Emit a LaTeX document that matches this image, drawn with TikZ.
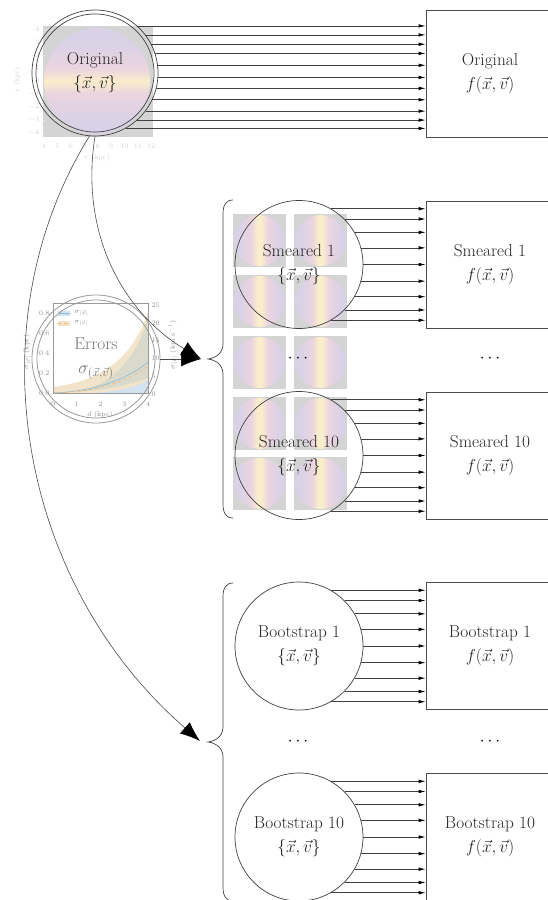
\documentclass[tikz,border=0pt]{standalone}
\usepackage{fontspec}
\usetikzlibrary{arrows.meta,calc}
\definecolor{lav}{HTML}{D9D2E7}
\definecolor{pnk}{HTML}{EBD4DF}
\definecolor{ylw}{HTML}{FAEDCB}
\definecolor{sqgray}{HTML}{D4D4D4}
\definecolor{mplblue}{HTML}{5B9DC9}
\definecolor{bandblue}{HTML}{D2E3EF}
\definecolor{bandorange}{HTML}{F2E4CA}
\definecolor{bandolive}{HTML}{D9DACB}
\pgfdeclarehorizontalshading{smearsh}{100bp}{color(0bp)=(lav); color(30bp)=(lav); color(42bp)=(pnk); color(48bp)=(ylw); color(52bp)=(ylw); color(58bp)=(pnk); color(70bp)=(lav); color(100bp)=(lav)}
\pgfdeclareverticalshading{origsh}{100bp}{color(0bp)=(lav); color(32bp)=(lav); color(44bp)=(pnk); color(50bp)=(ylw); color(56bp)=(pnk); color(68bp)=(lav); color(100bp)=(lav)}
\newcommand\lab{\fontsize{17.28}{24}\selectfont}
\newcommand\tinylab{\fontsize{7}{8}\selectfont}
\begin{document}
\begin{tikzpicture}[x=1pt,y=-1pt,
  ln/.style={black!75, line width=0.7pt},
  arr/.style={ln, -{Latex[length=7pt,width=3.5pt,black]}},
  bigarr/.style={black!70, line width=0.6pt, -{Latex[length=20pt,width=15pt,black]}},
  circ/.style={circle, draw=black!75, line width=0.7pt, minimum size=128pt, inner sep=0pt, align=center, font=\lab, text=black!85},
  fnbox/.style={rectangle, draw=black!70, line width=0.7pt, minimum width=128pt, minimum height=127pt, align=center, font=\lab, text=black!85},
  ticklab/.style={font=\tinylab, text=black!18, inner sep=0.5pt},
  errlab/.style={font=\tinylab, text=black!45, inner sep=0.5pt},
  dotsnode/.style={font=\lab, inner sep=0pt}]
\path[use as bounding box] (0,0) rectangle (548,900);
\clip (0,0) rectangle (548,900);

% ---------- Original image (plot) ----------
\foreach \v [count=\i from 0] in {4,3,2,1,0,-1,-2,-3,-4}
  \node[ticklab, anchor=east] at (40,29+13*\i) {$\v$};
\foreach \v [count=\i from 0] in {4,5,6,7,8,9,10,11,12}
  \node[ticklab] at (44+13.4*\i,146) {\v};
\node[ticklab] at (97,158) {$r$ (kpc)};
\node[ticklab, rotate=90] at (17,80) {$z$ (kpc)};
\fill[sqgray] (43,26) rectangle (153,137);
\foreach \i in {0,...,8} \draw[black!12, line width=.4pt] (43,29+13*\i) -- (46,29+13*\i);
\shade[shading=origsh] (97,81) circle[radius=53];

\node[circ, minimum size=126pt] (orig) at (95,73) {Original\\$\{\vec{x},\vec{v}\}$};
\draw[ln] (orig.center) circle[radius=59];
\node[fnbox] (forig) at (490,73.5) {Original\\$f(\vec{x},\vec{v})$};
\foreach \a in {48,37,27,18,7,-4,-14,-25,-37,-48,-61}
  \draw[arr] (orig.\a) -- (orig.\a -| forig.west);

% ---------- Smeared images ----------
\foreach \r in {214,275,336,397,457}
  \foreach \c in {233,294} {
    \fill[sqgray] (\c,\r) rectangle (\c+53,\r+53);
    \shade[shading=smearsh] (\c+26.5,\r+26.5) circle[radius=25.5];
  }

\node[circ] (s1) at (299,264.5) {Smeared 1\\$\{\vec{x},\vec{v}\}$};
\node[fnbox] (fs1) at (490,264.5) {Smeared 1\\$f(\vec{x},\vec{v})$};
\node[circ] (s10) at (299,455.5) {Smeared 10\\$\{\vec{x},\vec{v}\}$};
\node[fnbox] (fs10) at (490,455.5) {Smeared 10\\$f(\vec{x},\vec{v})$};
\node[dotsnode] (sd1) at (298,359) {$\cdots$};
\node[dotsnode] (sd2) at (490,359) {$\cdots$};

% ---------- Bootstrap ----------
\node[circ] (b1) at (299,646) {Bootstrap 1\\$\{\vec{x},\vec{v}\}$};
\node[fnbox] (fb1) at (490,646) {Bootstrap 1\\$f(\vec{x},\vec{v})$};
\node[circ] (b10) at (299,837) {Bootstrap 10\\$\{\vec{x},\vec{v}\}$};
\node[fnbox] (fb10) at (490,837) {Bootstrap 10\\$f(\vec{x},\vec{v})$};
\node[dotsnode] (bd1) at (298,742) {$\cdots$};
\node[dotsnode] (bd2) at (490,742) {$\cdots$};

\foreach \n in {s1,s10,b1,b10}
  \foreach \a in {60,45,30,15,0,-15,-30,-45,-60}
    \draw[arr] (\n.\a) -- (\n.\a -| f\n.west);

% ---------- Braces ----------
\draw[ln] (233,200) .. controls (226,200) and (223,205) .. (223,214) -- (223,344)
  .. controls (223,353) and (216,358) .. (208,359)
  .. controls (216,360) and (223,365) .. (223,374) -- (223,504)
  .. controls (223,513) and (226,518) .. (233,518);
\draw[ln] (233,583) .. controls (226,583) and (223,588) .. (223,597) -- (223,727)
  .. controls (223,736) and (216,741) .. (208,742)
  .. controls (216,743) and (223,748) .. (223,757) -- (223,887)
  .. controls (223,896) and (226,901) .. (233,901);

% ---------- Errors plot ----------
\fill[bandorange] (53,387) .. controls (100,381) and (132,360) .. (148,312) -- (148,393) -- (53,393) -- cycle;
\fill[bandolive] (75,392) .. controls (110,386) and (135,362) .. (148,318) -- (148,378) .. controls (125,386) and (100,391) .. (75,392) -- cycle;
\fill[bandblue] (95,393) .. controls (125,390) and (140,386) .. (148,380) -- (148,393) -- cycle;
\draw[mplblue!70, line width=.6pt] (53,393) .. controls (100,391) and (130,377) .. (148,362);
\draw[orange!60, dashed, line width=.6pt] (53,393) .. controls (100,392) and (130,380) .. (148,366);
\draw[black!40, line width=.4pt] (53,303) rectangle (148,393);
\foreach \v [count=\i from 0] in {0.0,0.2,0.4,0.6,0.8}
  \node[errlab, anchor=east] at (50,393-20*\i) {\v};
\foreach \v [count=\i from 0] in {0,5,10,15,20,25}
  \node[errlab, anchor=west] at (151,394-17.8*\i) {\v};
\foreach \v [count=\i from 0] in {0,1,2,3,4}
  \node[errlab] at (53+23.75*\i,404) {\v};
\node[errlab] at (100,415) {$d$ (kpc)};
\node[errlab, rotate=90] at (27,352) {$\sigma_{|\vec{x}|}$ (kpc)};
\node[errlab, rotate=90] at (173,345) {$\sigma_{|\vec{v}|}$ (km s$^{-1}$)};
\fill[bandblue] (58,310.5) rectangle (70,315.5);
\draw[mplblue!70, line width=.8pt] (58,313) -- (70,313);
\fill[bandorange] (58,320.5) rectangle (70,325.5);
\draw[orange!60, dashed, line width=.8pt] (58,323) -- (70,323);
\node[errlab, anchor=west] at (74,313) {$\sigma_{|\vec{x}|}$};
\node[errlab, anchor=west] at (74,323) {$\sigma_{|\vec{v}|}$};

\node[circle, draw=black!40, line width=0.8pt, minimum size=128pt, inner sep=0pt, align=center, font=\lab, text=black!55] (err) at (96,359) {Errors\\$\sigma_{(\vec{x},\vec{v})}$};
\draw[black!40, line width=0.8pt] (err.center) circle[radius=59];

% ---------- Big arrows ----------
\coordinate (stip) at (201,359);
\coordinate (btip) at (200,741);
\draw[bigarr] (orig.-90) .. controls (80,230) and (120,310) .. (stip);
\draw[bigarr] (orig.-95) .. controls (-25,320) and (15,580) .. (btip);
\draw[bigarr] (err.east) -- (stip);
\end{tikzpicture}
\end{document}
